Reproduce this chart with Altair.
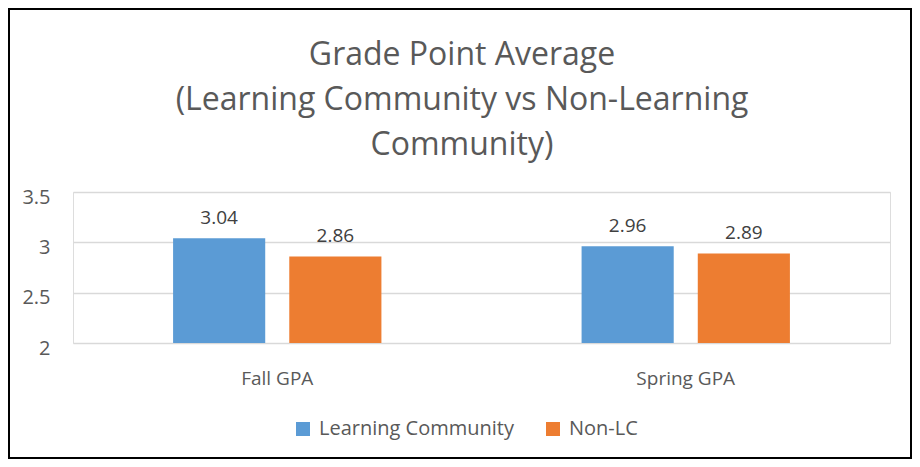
import altair as alt
import pandas as pd

categories = ["Fall GPA", "Spring GPA"]
series = ["Learning Community", "Non-LC"]
lc_values = [3.04, 2.96]
nonlc_values = [2.86, 2.89]
y_ticks = [2, 2.5, 3, 3.5]
colors = ["#5B9BD5", "#ED7D31"]
title_lines = ["Grade Point Average", "(Learning Community vs Non-Learning", "Community)"]

rows = []
for i, c in enumerate(categories):
    rows.append({"cat": c, "series": series[0], "gpa": lc_values[i]})
    rows.append({"cat": c, "series": series[1], "gpa": nonlc_values[i]})
df = pd.DataFrame(rows)

FONT = "Open Sans"
W, H = 817, 151
PL, PT, PR, PB = 65, 184, 22, 116

x = alt.X("cat:N", sort=categories, title=None,
          scale=alt.Scale(paddingInner=0.49, paddingOuter=0.245),
          axis=alt.Axis(labelAngle=0, ticks=False, tickSize=0, domain=False,
                        labelFontSize=19, labelColor="#595959", labelFont=FONT,
                        labelPadding=26, labelBaseline="top"))
xo = alt.XOffset("series:N", sort=series,
                 scale=alt.Scale(paddingInner=0.207, paddingOuter=0))
y = alt.Y("gpa:Q", title=None,
          scale=alt.Scale(domain=[2, 3.5], zero=False, nice=False),
          axis=alt.Axis(values=y_ticks, format="~g", ticks=False, tickSize=0,
                        domain=False, gridColor="#D9D9D9", gridWidth=1.5,
                        labelFontSize=20, labelColor="#595959", labelFont=FONT,
                        labelPadding=23, labelOffset=5))

bars = alt.Chart(df).mark_bar().encode(
    x=x, xOffset=xo, y=y, y2=alt.datum(2),
    color=alt.Color("series:N", sort=series,
                    scale=alt.Scale(domain=series, range=colors),
                    legend=alt.Legend(title=None, orient="none", direction="horizontal",
                                      legendX=220, legendY=227,
                                      symbolType="square", symbolSize=196,
                                      symbolStrokeWidth=0, labelFontSize=20,
                                      labelColor="#595959", labelFont=FONT,
                                      labelOffset=6, columnPadding=29,
                                      labelLimit=400, padding=0)),
)

labels = alt.Chart(df).mark_text(dy=-20, fontSize=19, color="#404040", font=FONT,
                                 baseline="middle").encode(
    x=alt.X("cat:N", sort=categories), xOffset=alt.XOffset("series:N", sort=series),
    y="gpa:Q", text=alt.Text("gpa:Q", format=".2f"),
)

one = pd.DataFrame({"a": [0]})
title = alt.Chart(one).mark_text(
    text=title_lines, fontSize=32, lineHeight=45, font=FONT, color="#595959",
    align="center", baseline="alphabetic").encode(
    x=alt.value(389), y=alt.value(-127)
)

border = alt.Chart(one).mark_rect(
    fill="transparent", stroke="black", strokeWidth=2).encode(
    x=alt.value(-PL + 1), x2=alt.value(W + PR - 1),
    y=alt.value(-PT + 1), y2=alt.value(H + PB - 1)
)

chart = alt.layer(bars, labels, title, border).properties(
    width=W, height=H,
    autosize=alt.AutoSizeParams(type="none"),
    padding={"left": PL, "top": PT, "right": PR, "bottom": PB},
).configure_view(stroke=None).configure(background="white")

chart.save("out.html", embed_options={"renderer": "svg", "actions": False})
